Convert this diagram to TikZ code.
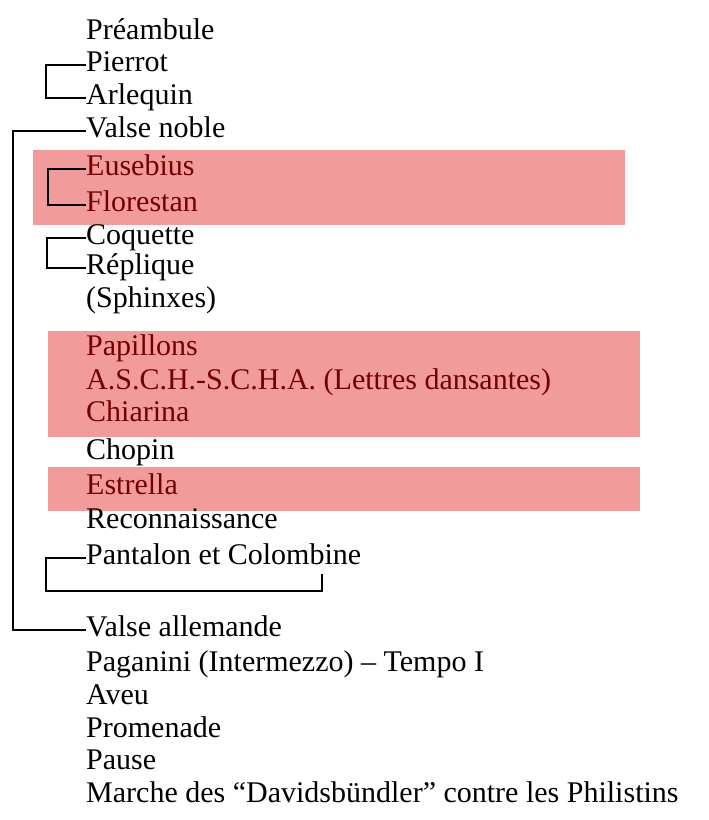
\documentclass[tikz,border=0pt]{standalone}
\usepackage{fontspec}
\setmainfont{Liberation Serif}
\usetikzlibrary{positioning}
\definecolor{hlred}{RGB}{242,155,155}
\definecolor{txtred}{RGB}{115,0,0}

\tikzset{
  piece/.style={anchor=west, inner sep=0pt, text height=18pt, text depth=5pt,
    font=\fontsize{30}{32}\selectfont},
  redpiece/.style={piece, text=txtred},
  hl/.style={fill=hlred, draw=none},
  brk/.style={line width=1.6pt}
}

\begin{document}
\begin{tikzpicture}[x=1pt, y=-1pt]
        \useasboundingbox (0,0) rectangle (709,820);

        % highlighted groups
        \fill[hl] (33,150) rectangle (625,225);
        \fill[hl] (48,331) rectangle (640,437);
        \fill[hl] (48,467) rectangle (640,511);

        \node[piece] (pre) at (86,33) {Préambule};
        \node[piece] (pie) at (86,65) {Pierrot};
        \node[piece] (arl) at (86,98) {Arlequin};
        \node[piece] (vno) at (86,131) {Valse noble};
        \node[redpiece] (eus) at (86,169) {Eusebius};
        \node[redpiece] (flo) at (86,205) {Florestan};
        \node[piece] (coq) at (86,238) {Coquette};
        \node[piece] (rep) at (86,268) {Réplique};
        \node[piece] (sph) at (86,301) {(Sphinxes)};
        \node[redpiece] (pap) at (86,349) {Papillons};
        \node[redpiece] (asc) at (86,383) {A.S.C.H.-S.C.H.A. (Lettres dansantes)};
        \node[redpiece] (chi) at (86,415) {Chiarina};
        \node[piece] (cho) at (86,453) {Chopin};
        \node[redpiece] (est) at (86,488) {Estrella};
        \node[piece] (rec) at (86,522) {Reconnaissance};
        \node[piece] (pan) at (86,558) {Pantalon et Colombine};
        \node[piece] (val) at (86,630) {Valse allemande};
        \node[piece] (pag) at (86,665) {Paganini (Intermezzo) -- Tempo I};
        \node[piece] (ave) at (86,698) {Aveu};
        \node[piece] (pro) at (86,731) {Promenade};
        \node[piece] (pau) at (86,763) {Pause};
        \node[piece] (mar) at (86,796) {Marche des “Davidsbündler” contre les Philistins};

        \coordinate (panend) at (322,574);

        % brackets
        \draw[brk] (pie.west) -- ++(-40,0) |- (arl.west);
        \draw[brk] (vno.west) -- ++(-73,0) |- (val.west);
        \draw[brk] (eus.west) -- ++(-38,0) |- (flo.west);
        \draw[brk] (coq.west) -- ++(-39,0) |- (rep.west);
        \draw[brk] (pan.west) -| ++(-40,33) -| (panend);
\end{tikzpicture}
\end{document}
